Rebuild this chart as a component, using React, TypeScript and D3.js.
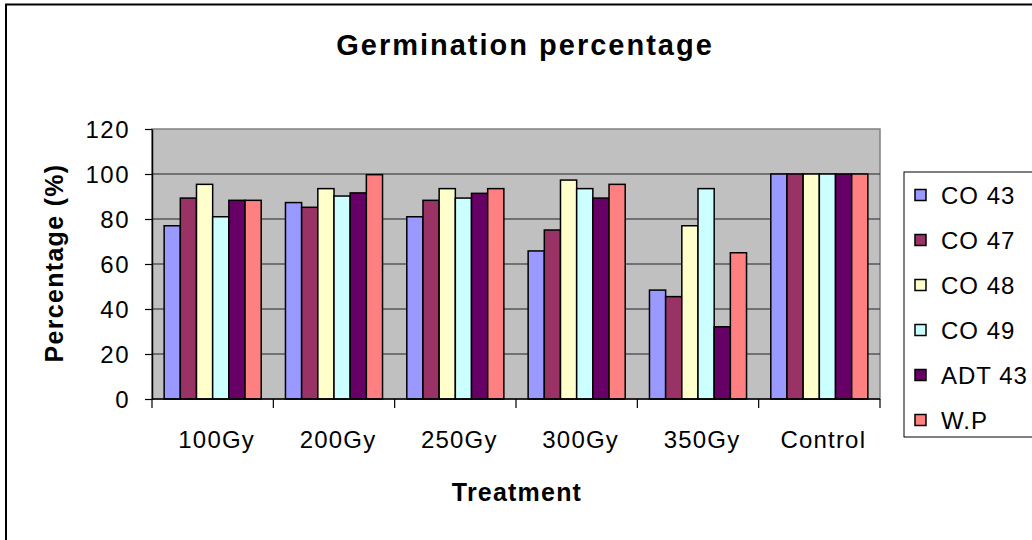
import React, { useEffect, useRef } from "react";
import * as d3 from "d3";

const treatments = ["100Gy", "200Gy", "250Gy", "300Gy", "350Gy", "Control"];
const varieties = ["CO 43", "CO 47", "CO 48", "CO 49", "ADT 43", "W.P"];
const colors = ["#9999FF", "#993366", "#FFFFCC", "#CCFFFF", "#660066", "#FF8080"];

// one array per variety, in treatment order
const co43 = [77, 87.3, 81, 65.8, 48.4, 100];
const co47 = [89.3, 85.2, 88.3, 75.1, 45.5, 100];
const co48 = [95.4, 93.5, 93.5, 97.3, 77, 100];
const co49 = [81, 90.2, 89.3, 93.5, 93.5, 100];
const adt43 = [88.3, 91.6, 91.4, 89.3, 32.1, 100];
const wp = [88.3, 99.7, 93.5, 95.4, 65, 100];
const yTicks = [0, 20, 40, 60, 80, 100, 120];

const App: React.FC = () => {
  const svgRef = useRef<SVGSVGElement>(null);

  useEffect(() => {
    const series = [co43, co47, co48, co49, adt43, wp];
    const width = 1032;
    const height = 540;
    const font = "'Liberation Sans', Arial, sans-serif";

    const svg = d3.select(svgRef.current).attr("width", width).attr("height", height);
    svg.selectAll("*").remove();

    // outer chart border
    svg
      .append("rect")
      .attr("x", 6)
      .attr("y", 4.5)
      .attr("width", 1040)
      .attr("height", 560)
      .attr("fill", "#fff")
      .attr("stroke", "#000")
      .attr("stroke-width", 2);

    const left = 152;
    const right = 880;
    const top = 129;
    const bottom = 399;

    const x0 = d3.scaleBand().domain(treatments).range([left, right]);
    const x1 = d3
      .scaleBand()
      .domain(varieties)
      .range([0, x0.bandwidth()])
      .paddingOuter(0.75)
      .paddingInner(0);
    const y = d3.scaleLinear().domain([0, 120]).range([bottom, top]);

    // plot area
    svg
      .append("rect")
      .attr("x", left)
      .attr("y", top)
      .attr("width", right - left)
      .attr("height", bottom - top)
      .attr("fill", "#C0C0C0")
      .attr("stroke", "#808080")
      .attr("stroke-width", 1.5);

    svg
      .append("g")
      .selectAll("line")
      .data(yTicks.filter(t => t > 0 && t < 120))
      .enter()
      .append("line")
      .attr("x1", left)
      .attr("x2", right)
      .attr("y1", d => y(d))
      .attr("y2", d => y(d))
      .attr("stroke", "#222")
      .attr("stroke-width", 1.2);

    // bars
    const groups = svg
      .append("g")
      .selectAll("g")
      .data(treatments)
      .enter()
      .append("g")
      .attr("transform", d => `translate(${x0(d)},0)`);

    groups
      .selectAll("rect")
      .data((t, i) => varieties.map((v, j) => ({ v, j, value: series[j][i] })))
      .enter()
      .append("rect")
      .attr("x", d => x1(d.v)!)
      .attr("y", d => y(d.value))
      .attr("width", x1.bandwidth())
      .attr("height", d => y(0) - y(d.value))
      .attr("fill", d => colors[d.j])
      .attr("stroke", "#000")
      .attr("stroke-width", 1.5);

    // y axis
    const yAxis = svg
      .append("g")
      .attr("transform", `translate(${left},0)`)
      .call(d3.axisLeft(y).tickValues(yTicks).tickSize(7).tickSizeOuter(0).tickPadding(15));
    yAxis.select(".domain").attr("stroke", "#000").attr("stroke-width", 1.5);
    yAxis.selectAll(".tick line").attr("stroke", "#000").attr("stroke-width", 1.2);
    yAxis
      .selectAll("text")
      .attr("font-family", font)
      .attr("font-size", 24)
      .attr("letter-spacing", 1.5)
      .attr("fill", "#000")
      .attr("dy", "0.35em");

    // x axis
    const xAxis = svg.append("g").attr("transform", `translate(0,${bottom})`);
    xAxis
      .append("line")
      .attr("x1", left)
      .attr("x2", right)
      .attr("stroke", "#000")
      .attr("stroke-width", 1.5);
    xAxis
      .selectAll("line.tk")
      .data([...treatments.map(t => x0(t)!), right])
      .enter()
      .append("line")
      .attr("class", "tk")
      .attr("x1", d => d)
      .attr("x2", d => d)
      .attr("y1", 0)
      .attr("y2", 9)
      .attr("stroke", "#000")
      .attr("stroke-width", 1.2);
    xAxis
      .selectAll("text")
      .data(treatments)
      .enter()
      .append("text")
      .attr("x", d => x0(d)! + x0.bandwidth() / 2 + 4)
      .attr("y", 49)
      .attr("text-anchor", "middle")
      .attr("font-family", font)
      .attr("font-size", 24)
      .attr("letter-spacing", 1.2)
      .text(d => d);

    // titles
    svg
      .append("text")
      .attr("x", 525)
      .attr("y", 55)
      .attr("text-anchor", "middle")
      .attr("font-family", font)
      .attr("font-size", 29)
      .attr("font-weight", "bold")
      .attr("letter-spacing", 2)
      .text("Germination percentage");

    svg
      .append("text")
      .attr("x", 517)
      .attr("y", 501)
      .attr("text-anchor", "middle")
      .attr("font-family", font)
      .attr("font-size", 25)
      .attr("font-weight", "bold")
      .attr("letter-spacing", 1.2)
      .text("Treatment");

    svg
      .append("text")
      .attr("transform", "translate(63,263) rotate(-90)")
      .attr("text-anchor", "middle")
      .attr("font-family", font)
      .attr("font-size", 25)
      .attr("font-weight", "bold")
      .attr("letter-spacing", 1.3)
      .text("Percentage (%)");

    // legend
    const legend = svg.append("g");
    legend
      .append("rect")
      .attr("x", 904)
      .attr("y", 172)
      .attr("width", 140)
      .attr("height", 265)
      .attr("fill", "#fff")
      .attr("stroke", "#000")
      .attr("stroke-width", 1);

    const items = legend
      .selectAll("g")
      .data(varieties)
      .enter()
      .append("g")
      .attr("transform", (d, i) => `translate(915,${195 + i * 45})`);
    items
      .append("rect")
      .attr("x", 0)
      .attr("y", -5.5)
      .attr("width", 11)
      .attr("height", 11)
      .attr("fill", (d, i) => colors[i])
      .attr("stroke", "#000")
      .attr("stroke-width", 1.5);
    items
      .append("text")
      .attr("x", 26)
      .attr("y", 8.5)
      .attr("font-family", font)
      .attr("font-size", 24)
      .attr("letter-spacing", 1)
      .text(d => d);
  }, []);

  return (
    <div>
      <svg ref={svgRef} style={{ position: "absolute", left: 0, top: 0 }}></svg>
    </div>
  );
};

export default App;
